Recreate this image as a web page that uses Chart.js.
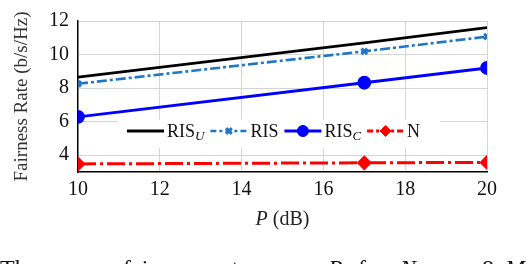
<!DOCTYPE html>
<html>
<head>
<meta charset="utf-8">
<script src="https://cdn.jsdelivr.net/npm/chart.js@4.4.0/dist/chart.umd.min.js"></script>
<style>
  html, body { margin: 0; padding: 0; background: #fff; overflow: hidden; }
  #wrap { position: relative; width: 530px; height: 264px; overflow: hidden; }
  #caption span {
    position: absolute; top: 255px; white-space: nowrap;
    font-family: 'Liberation Serif', serif; font-size: 24px; color: #111;
  }
</style>
</head>
<body>
<div id="wrap">
  <canvas id="fairnessChart" width="530" height="264"></canvas>
  <div id="caption">
    <span style="left:0px">The</span><span style="left:48px">average</span><span style="left:123px">fairness</span><span style="left:213px">rate</span><span style="left:263px">versus</span><span style="left:328px"><i>P</i></span><span style="left:358px">for</span><span style="left:400px"><i>N</i></span><span style="left:443px">=</span><span style="left:482px">8.</span><span style="left:505px"><i>M</i></span>
  </div>
</div>
<script>
// data
const pValues = [10, 17, 20];
const risU = [8.65, 10.7, 11.6];
const ris = [8.26, 10.19, 11.07];
const risC = [6.29, 8.32, 9.2];
const nBase = [3.48, 3.55, 3.57];
const xTicks = [10, 12, 14, 16, 18, 20];
const yTicks = [4, 6, 8, 10, 12];

const serif = "'Liberation Serif', 'DejaVu Serif', serif";
const toPts = arr => arr.map((y, i) => ({ x: pValues[i], y: y }));

const datasets = [
    { label: 'RIS', sub: 'U', data: toPts(risU), borderColor: '#000000', backgroundColor: '#000000',
      borderWidth: 2.8, pointRadius: 0, pointStyle: false },
    { label: 'RIS', sub: '', data: toPts(ris), borderColor: '#1f77c4', backgroundColor: '#1f77c4',
      borderWidth: 2.6, borderDash: [10, 3, 3, 3], pointStyle: 'crossRot', pointRadius: 4, pointBorderWidth: 3 },
    { label: 'RIS', sub: 'C', data: toPts(risC), borderColor: '#0000ff', backgroundColor: '#0000ff',
      borderWidth: 2.8, pointStyle: 'circle', pointRadius: 5.5 },
    { label: 'N', sub: '', data: toPts(nBase), borderColor: '#ff0000', backgroundColor: '#ff0000',
      borderWidth: 3, borderDash: [18, 4, 3, 4], pointStyle: 'rectRot', pointRadius: 5.5 },
];

// legend inside the plot on a white box, plus the x title with italic P
const boxLegend = {
    id: 'boxLegend',
    beforeDatasetsDraw(chart) {
        const ctx = chart.ctx;
        ctx.save();
        ctx.fillStyle = '#ffffff';
        ctx.fillRect(118, 120, 322, 28);
        ctx.restore();
    },
    afterDatasetsDraw(chart) {
        const ctx = chart.ctx;
        const y = 131;
        let x = 127;
        ctx.save();
        ctx.textBaseline = 'middle';
        chart.data.datasets.forEach(ds => {
            const len = 37;
            ctx.strokeStyle = ds.borderColor;
            ctx.lineWidth = ds.borderWidth;
            ctx.setLineDash(ds.borderDash ? [6, 3, 3, 3] : []);
            ctx.beginPath();
            ctx.moveTo(x, y);
            ctx.lineTo(x + len, y);
            ctx.stroke();
            ctx.setLineDash([]);
            if (ds.pointStyle) {
                ctx.fillStyle = ds.backgroundColor;
                ctx.strokeStyle = ds.borderColor;
                ctx.lineWidth = ds.pointBorderWidth || 1;
                Chart.helpers.drawPoint(ctx, {
                    pointStyle: ds.pointStyle, radius: ds.pointRadius, rotation: 0,
                    borderWidth: ds.pointBorderWidth || 1
                }, x + len / 2, y);
            }
            x += len + 3;
            ctx.fillStyle = '#111';
            ctx.font = '18px ' + serif;
            ctx.fillText(ds.label, x, y + 1);
            x += ctx.measureText(ds.label).width;
            if (ds.sub) {
                ctx.font = 'italic 13px ' + serif;
                ctx.fillText(ds.sub, x, y + 6);
                x += ctx.measureText(ds.sub).width;
            }
            x += 6;
        });

        // x axis title
        const area = chart.chartArea;
        ctx.fillStyle = '#222';
        ctx.font = 'italic 20px ' + serif;
        const wP = ctx.measureText('P').width + 5;
        ctx.font = '20px ' + serif;
        const wRest = ctx.measureText('(dB)').width;
        let tx = (area.left + area.right) / 2 - (wP + wRest) / 2;
        ctx.textAlign = 'left';
        ctx.font = 'italic 20px ' + serif;
        ctx.fillText('P', tx, 220);
        ctx.font = '20px ' + serif;
        ctx.fillText('(dB)', tx + wP, 220);
        ctx.restore();
    }
};

new Chart(document.getElementById('fairnessChart').getContext('2d'), {
    type: 'line',
    data: { datasets: datasets },
    options: {
        responsive: false,
        animation: false,
        devicePixelRatio: 1,
        layout: { padding: { left: 0, right: 43, top: 10, bottom: 34 } },
        plugins: { legend: { display: false }, tooltip: { enabled: false } },
        elements: { line: { tension: 0 } },
        scales: {
            x: {
                type: 'linear', min: 10, max: 20,
                afterBuildTicks: axis => { axis.ticks = xTicks.map(v => ({ value: v })); },
                afterFit: axis => { axis.height = 58; },
                grid: { color: '#d4d4d4', lineWidth: 1, drawTicks: false },
                border: { color: '#000', width: 1.4 },
                ticks: { color: '#111', padding: 6, maxRotation: 0, font: { family: serif, size: 20 } },
                title: { display: false }
            },
            y: {
                min: 3, max: 12,
                afterBuildTicks: axis => { axis.ticks = yTicks.map(v => ({ value: v })); },
                afterFit: axis => { axis.width = 78; },
                grid: { color: '#d4d4d4', lineWidth: 1, drawTicks: false },
                border: { color: '#000', width: 1.4 },
                ticks: { color: '#111', padding: 9, font: { family: serif, size: 20 } },
                title: {
                    display: true, text: 'Fairness Rate (b/s/Hz)', color: '#333',
                    padding: { top: 11, bottom: 0 }, font: { family: serif, size: 19 }
                }
            }
        }
    },
    plugins: [boxLegend]
});
</script>
</body>
</html>
